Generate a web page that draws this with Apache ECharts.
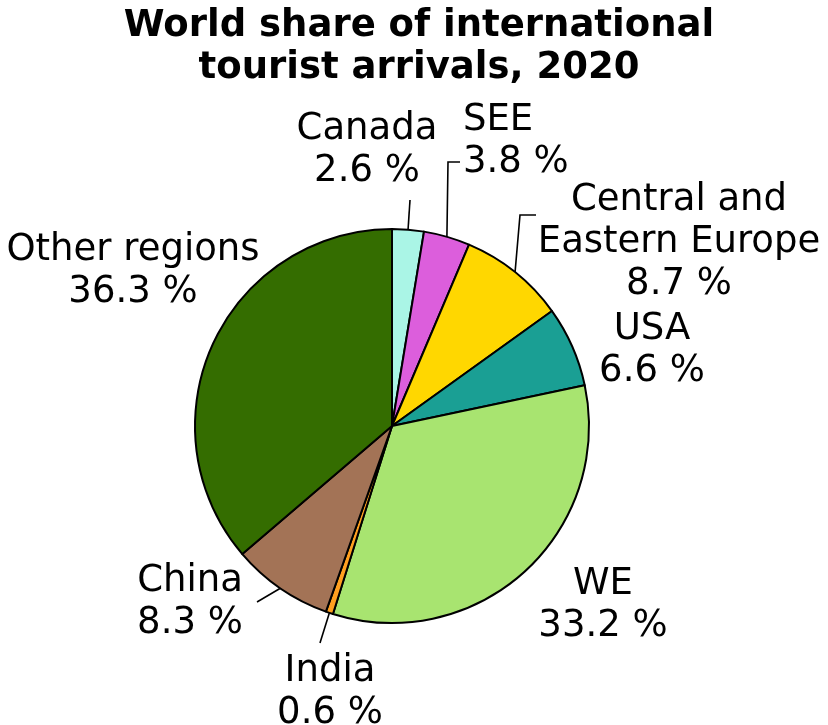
<!DOCTYPE html>
<html><head><meta charset="utf-8">
<script src="https://cdn.jsdelivr.net/npm/echarts@6/dist/echarts.min.js"></script>
<style>html,body{margin:0;padding:0;background:#fff}#c{width:828px;height:725px}</style>
</head><body><div id="c"></div>
<script>
const categories = ['Canada', 'SEE', 'Central and\nEastern Europe', 'USA', 'WE', 'India', 'China', 'Other regions'];
const shares = [2.6, 3.8, 8.7, 6.6, 33.2, 0.6, 8.3, 36.3];
const colors = ['#aaf5e6', '#dc5edc', '#ffd700', '#1a9f94', '#a8e470', '#ffa020', '#a37356', '#346d00'];
const labelPos = [[367,150,'center'],[463,141,'left'],[679,242,'center'],[652,350,'center'],[603,605,'center'],[330,692,'center'],[190,602,'center'],[133,271,'center']];
const lineEnds = [[[410,200]], [[448,162],[460,162]], [[520,215],[536,215]], null, null, [[320,643]], [[257,602]], null];

const CX = 392, CY = 426, R = 197;
const total = shares.reduce((a, b) => a + b, 0);
const midAngles = [];
let acc = 0;
shares.forEach(v => { midAngles.push((acc + v / 2) / total * 2 * Math.PI); acc += v; });

const chart = echarts.init(document.getElementById('c'));
chart.setOption({
  animation: false,
  title: {
    text: 'World share of international\ntourist arrivals, 2020',
    left: 414, top: 0, textAlign: 'center',
    textStyle: {fontFamily: 'DejaVu Sans', fontWeight: 'bold', fontSize: 37, lineHeight: 42, color: '#000'}
  },
  series: [{
    type: 'pie',
    center: [CX, CY],
    radius: R,
    startAngle: 90,
    clockwise: true,
    data: categories.map((c, i) => ({name: c, value: shares[i], itemStyle: {color: colors[i]}, labelLine: {show: !!lineEnds[i]}})),
    itemStyle: {borderColor: '#000', borderWidth: 2},
    label: {
      show: true,
      formatter: p => p.name + '\n' + p.value.toFixed(1) + ' %',
      fontFamily: 'DejaVu Sans', fontSize: 37, lineHeight: 42, color: '#000', align: 'center',
      overflow: 'none'
    },
    labelLine: {show: true, lineStyle: {color: '#000', width: 1.6}, length: 10, length2: 10},
    labelLayout: function (params) {
      const i = params.dataIndex;
      const p = labelPos[i];
      const out = {x: p[0], y: p[1], align: p[2], verticalAlign: 'middle'};
      if (lineEnds[i]) {
        const a = midAngles[i];
        const start = [CX + R * Math.sin(a), CY - R * Math.cos(a)];
        out.labelLinePoints = [start].concat(lineEnds[i]);
        if (out.labelLinePoints.length === 2) out.labelLinePoints.push(lineEnds[i][0]);
      }
      return out;
    },
    emphasis: {disabled: true}
  }]
});
</script></body></html>
